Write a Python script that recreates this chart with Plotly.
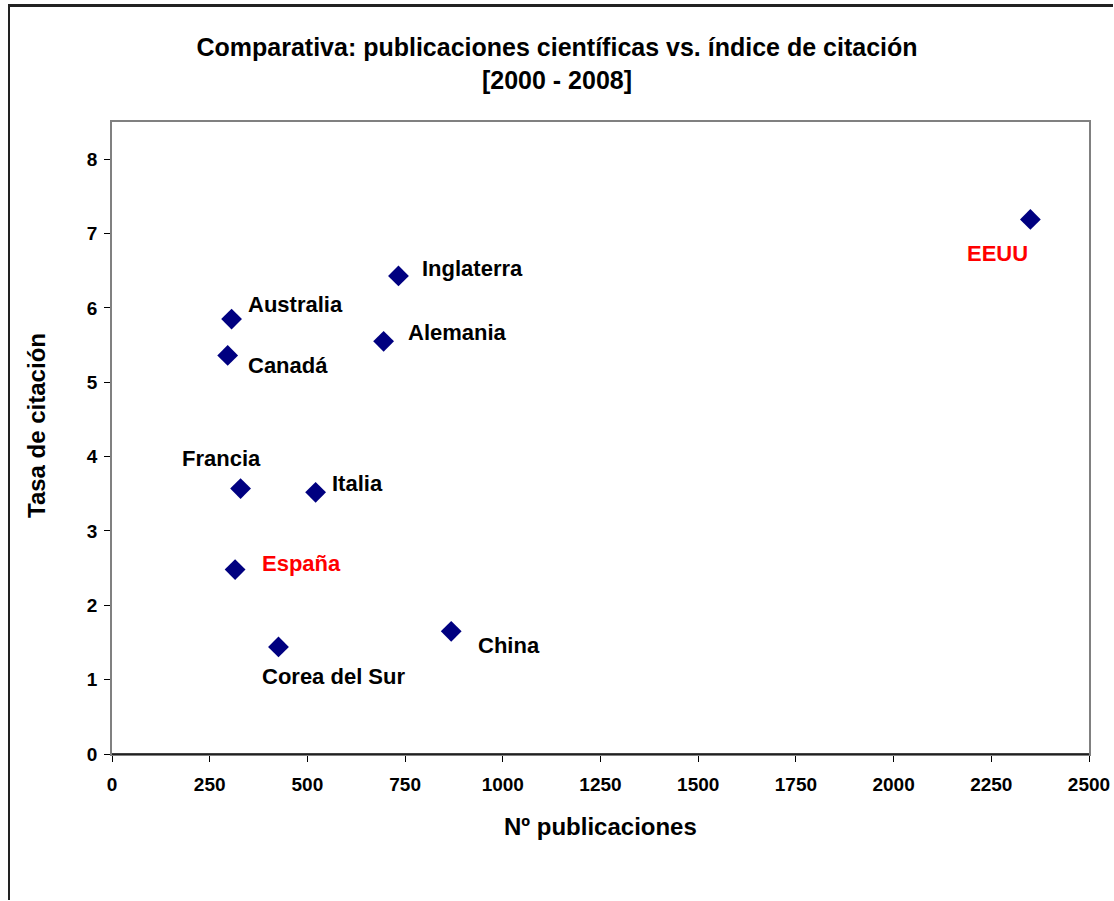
import plotly.graph_objects as go

countries = ["EEUU", "Inglaterra", "Australia", "Alemania", "Canadá",
             "Francia", "Italia", "España", "Corea del Sur", "China"]
publicaciones = [2350, 733, 306, 695, 296, 329, 521, 315, 426, 868]
citacion = [7.19, 6.43, 5.85, 5.55, 5.36, 3.57, 3.52, 2.48, 1.44, 1.65]
label_colors = ["#FF0000", "#000000", "#000000", "#000000", "#000000",
                "#000000", "#000000", "#FF0000", "#000000", "#000000"]
x_ticks = [0, 250, 500, 750, 1000, 1250, 1500, 1750, 2000, 2250, 2500]
y_ticks = [0, 1, 2, 3, 4, 5, 6, 7, 8]

# label placement (pixel offsets from the marker)
label_offsets = {
    "EEUU": ("right", 0, -34),
    "Inglaterra": ("left", 22, 7),
    "Australia": ("left", 14, 15),
    "Alemania": ("left", 22, 9),
    "Canadá": ("left", 18, -10),
    "Francia": ("left", -61, 30),
    "Italia": ("left", 14, 9),
    "España": ("left", 25, 6),
    "Corea del Sur": ("left", -18, -30),
    "China": ("left", 25, -14),
}

FONT = "Liberation Sans, Arial, sans-serif"
W, H = 1114, 901
L, R, T, B = 112, 25, 122, 147
PW, PH = W - L - R, H - T - B

fig = go.Figure()
fig.add_trace(go.Scatter(
    x=publicaciones, y=citacion, mode="markers",
    marker=dict(symbol="diamond", size=16, color="#000080",
                line=dict(width=0)),
    showlegend=False, hoverinfo="skip"))

annotations = []
for c, xv, yv, col in zip(countries, publicaciones, citacion, label_colors):
    anc, dx, dy = label_offsets[c]
    annotations.append(dict(
        x=xv, y=yv, xref="x", yref="y", text="<b>%s</b>" % c,
        showarrow=False, xanchor=anc, yanchor="middle",
        xshift=dx, yshift=dy,
        font=dict(family=FONT, size=22, color=col)))

# axis titles
annotations.append(dict(
    x=(600 - L) / PW, y=(H - B - 826) / PH, xref="paper", yref="paper",
    text="<b>Nº publicaciones</b>", showarrow=False,
    xanchor="center", yanchor="middle",
    font=dict(family=FONT, size=24, color="#000000")))
annotations.append(dict(
    x=(36 - L) / PW, y=(H - B - 426) / PH, xref="paper", yref="paper",
    text="<b>Tasa de citación</b>", showarrow=False, textangle=-90,
    xanchor="center", yanchor="middle",
    font=dict(family=FONT, size=24, color="#000000")))

def px_x(p):
    return (p - L) / PW

def px_y(p):
    return (H - B - p) / PH

shapes = [
    # outer chart border: left edge (thin filled strip)
    dict(type="rect", xref="paper", yref="paper",
         x0=px_x(8), x1=px_x(10), y0=px_y(900), y1=px_y(4),
         line=dict(width=0), fillcolor="#222222", layer="above"),
    # outer chart border: top edge (thin filled strip)
    dict(type="rect", xref="paper", yref="paper",
         x0=px_x(8), x1=px_x(1113), y0=px_y(7), y1=px_y(4),
         line=dict(width=0), fillcolor="#222222", layer="above"),
    # black x axis line at y=0
    dict(type="line", xref="paper", yref="paper", x0=0, x1=1, y0=0, y1=0,
         line=dict(color="#000000", width=1.5)),
]

fig.update_layout(
    width=W, height=H,
    margin=dict(l=L, r=R, t=T, b=B, autoexpand=False),
    paper_bgcolor="white", plot_bgcolor="white",
    title=dict(
        text="<b>Comparativa: publicaciones científicas vs. índice de citación<br>[2000 - 2008]</b>",
        x=557 / W, xref="container", xanchor="center",
        y=1 - 56 / H, yref="container", yanchor="middle",
        font=dict(family=FONT, size=25, color="#000000")),
    annotations=annotations,
    shapes=shapes,
    font=dict(family=FONT, color="#000000"),
)

fig.update_xaxes(
    range=[0, 2500], tickvals=x_ticks, ticktext=["<b>%d</b>" % v for v in x_ticks],
    showgrid=False, zeroline=False, automargin=False,
    showline=True, linecolor="#808080", linewidth=1.5, mirror=True,
    ticks="outside", ticklen=6, tickcolor="#000000", tickwidth=1,
    tickfont=dict(family=FONT, size=19, color="#000000"),
    ticklabelstandoff=6)
fig.update_yaxes(
    range=[0, 8.5], tickvals=y_ticks, ticktext=["<b>%d</b>" % v for v in y_ticks],
    showgrid=False, zeroline=False, automargin=False,
    showline=True, linecolor="#808080", linewidth=1.5, mirror=True,
    ticks="outside", ticklen=6, tickcolor="#000000", tickwidth=1,
    tickfont=dict(family=FONT, size=19, color="#000000"),
    ticklabelstandoff=3)

fig.write_html(
    "out.html",
    config={"displayModeBar": False},
    post_script="document.body.style.margin='0';document.body.style.overflow='hidden';")
